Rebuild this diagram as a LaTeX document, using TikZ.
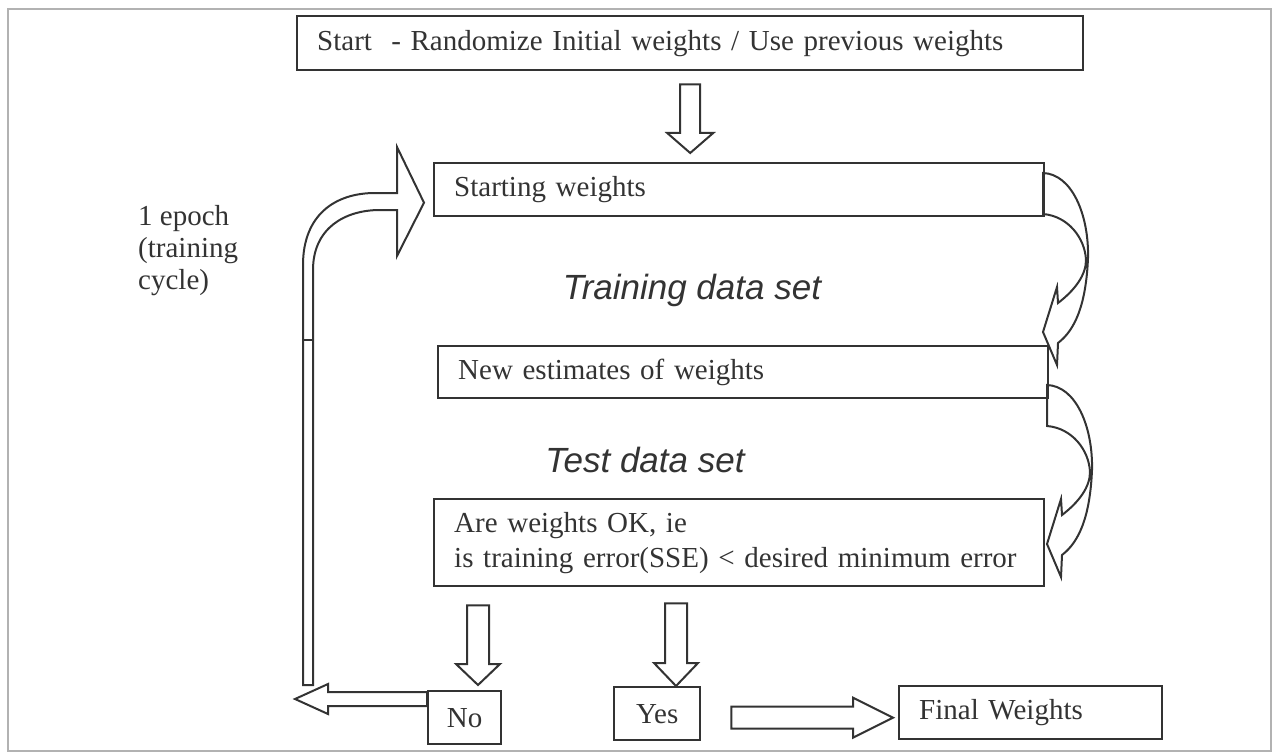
\documentclass[tikz,border=0pt]{standalone}
\usepackage{fontspec}
\setmainfont{Liberation Serif}
\newfontfamily\setfont{Liberation Sans}
\usetikzlibrary{
  calc
}
\definecolor{ink}{HTML}{333333}
\tikzset{
  box/.style={
    draw=ink,
    text=ink,
    line width=2.4pt,
    inner xsep=20pt,
    inner ysep=0pt,
    align=left,
    anchor=north west
  },
  smallbox/.style={
    box,
    inner xsep=0pt,
    align=center
  },
  blockline/.style={
    draw=ink,
    line width=2pt,
    line join=miter
  },
  frame/.style={
    draw=gray!60,
    line width=2.5pt
  },
  setlabel/.style={
    text=ink,
    font=\setfont\itshape\fontsize{35}{40}\selectfont
  }
}
% hollow straight arrow: from, to, shaft half width, head half width, head length
\newcommand\blockarrow[5]{%
  \coordinate (ba-head) at ($(#2)!#5!(#1)$);
  \draw[blockline] ($(#1)!#3!90:(#2)$) -- ($(ba-head)!#3!90:(#2)$) -- ($(ba-head)!#4!90:(#2)$) -- (#2)
    -- ($(ba-head)!#4!-90:(#2)$) -- ($(ba-head)!#3!-90:(#2)$) -- ($(#1)!#3!-90:(#2)$) -- cycle;
}
\begin{document}
\begin{tikzpicture}[x=1pt, y=-1pt, font=\fontsize{29}{35}\selectfont]
  \useasboundingbox (0,0) rectangle (1273,754);
  \path[frame] (8,9) rectangle (1271,751);

  \node[box, text width=746pt, minimum height=54pt] (start) at (296,15) {Start~~- Randomize Initial weights / Use previous weights};
  \node[box, text width=570pt, minimum height=53pt] (sw) at (433,162) {Starting weights};
  \node[box, text width=570pt, minimum height=52pt] (ne) at (437,345) {New estimates of weights};
  \node[box, text width=570pt, minimum height=87pt] (ok) at (433,498) {Are weights OK, ie\\\mbox{is training error(SSE) < desired minimum error}};
  \node[smallbox, text width=73pt, minimum height=53pt] (no) at (427,690) {No};
  \node[smallbox, text width=86pt, minimum height=53pt] (yes) at (613,686) {Yes};
  \node[box, text width=223pt, minimum height=53pt] (final) at (898,685) {Final Weights};

  \node[setlabel] (train) at (692,290) {Training data set};
  \node[setlabel] (test) at (645,460) {Test data set};
  \node[anchor=north west, align=left, inner sep=0pt, text=ink, font=\fontsize{29}{32}\selectfont] (epoch) at (138,205) {1 epoch\\(training\\cycle)};

  % straight block arrows
  \coordinate (s1) at ($(start.south)+(0,13)$);
  \coordinate (s2) at ($(s1 |- sw.north)+(0,-9)$);
  \blockarrow{s1}{s2}{10pt}{23pt}{20pt}
  \coordinate (n1) at ($(ok.south west)+(45,18)$);
  \coordinate (n2) at ($(n1 |- no.north)+(0,-5)$);
  \blockarrow{n1}{n2}{11pt}{22pt}{21pt}
  \coordinate (y1) at ($(ok.south west)+(243,16)$);
  \coordinate (y2) at (y1 |- yes.north);
  \blockarrow{y1}{y2}{11pt}{22pt}{23pt}
  \coordinate (f1) at ($(yes.east)+(30,4)$);
  \coordinate (f2) at ($(final.west |- f1)+(-5,0)$);
  \blockarrow{f1}{f2}{11pt}{20pt}{40pt}
  \coordinate (l1) at ($(no.north west)+(0,9)$);
  \coordinate (l2) at ($(l1)+(-132,0)$);
  \blockarrow{l1}{l2}{7pt}{15pt}{33pt}

  % loop back to the starting weights
  \coordinate (looptip) at ($(sw.west)+(-9,13)$);
  \draw[blockline] (303,685) -- (303,265) .. controls (303,215) and (335,193) .. (375,193) -- (397,193) -- (397,147)
    -- (looptip) -- (397,256) -- (397,210) -- (380,210) .. controls (345,210) and (313,228) .. (313,270) -- (313,685) -- cycle;
  \draw[blockline] (303,340) -- (313,340);

  % curved arrows on the right
  \foreach \dx/\dy in {0/0, 4/212} {
    \draw[blockline, shift={(\dx,\dy)}] (1043,173) .. controls (1072,174) and (1089,215) .. (1088,258)
      .. controls (1086,305) and (1075,330) .. (1058,343) -- (1057,365) -- (1043,332) -- (1057,287) -- (1058,303)
      .. controls (1075,290) and (1086,275) .. (1086,260) .. controls (1085,238) and (1068,216) .. (1043,214) -- cycle;
  }
\end{tikzpicture}
\end{document}
